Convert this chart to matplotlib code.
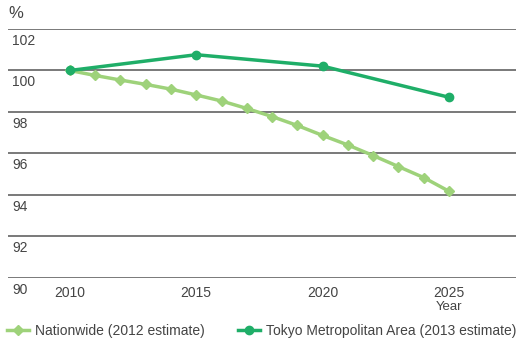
import matplotlib
matplotlib.use("Agg")
import matplotlib.pyplot as plt
import matplotlib.transforms as mtransforms

# data
years_nation = [2010, 2011, 2012, 2013, 2014, 2015, 2016, 2017, 2018, 2019, 2020, 2021, 2022, 2023, 2024, 2025]
nationwide = [100.0, 99.76, 99.54, 99.33, 99.1, 98.82, 98.53, 98.17, 97.78, 97.35, 96.87, 96.41, 95.9, 95.37, 94.84, 94.18]
years_tokyo = [2010, 2015, 2020, 2025]
tokyo = [100.0, 100.76, 100.21, 98.71]
y_ticks = [90, 92, 94, 96, 98, 100, 102]
x_ticks = [2010, 2015, 2020, 2025]

light_green = "#9ed27a"
dark_green = "#1fae68"
text_color = "#444444"

plt.rcParams["font.family"] = ["Liberation Sans", "DejaVu Sans"]

fig = plt.figure(figsize=(5.18, 3.39), dpi=100)
ax = fig.add_axes([0.0154, 0.18, 0.9806, 0.7345])

for y in y_ticks:
    ax.axhline(y, color="#555555", lw=1.1, zorder=1)

ax.plot(years_nation, nationwide, color=light_green, lw=2.5, marker="D", ms=5.5,
        label="Nationwide (2012 estimate)", zorder=3)
ax.plot(years_tokyo, tokyo, color=dark_green, lw=2.5, marker="o", ms=6,
        label="Tokyo Metropolitan Area (2013 estimate)", zorder=4)

ax.set_xlim(2007.55, 2027.65)
ax.set_ylim(90, 102)
for s in ax.spines.values():
    s.set_visible(False)
ax.set_xticks([])
ax.set_yticks([])

# y labels sit just under each gridline
trans = mtransforms.blended_transform_factory(ax.transAxes, ax.transData)
offset = mtransforms.ScaledTranslation(0, -5 / 100, fig.dpi_scale_trans)
for y in y_ticks:
    ax.text(0.008, y, str(y), transform=trans + offset, ha="left", va="top",
            fontsize=10, color=text_color)

for x in x_ticks:
    ax.text(x, 90, str(x), transform=ax.transData + mtransforms.ScaledTranslation(0, -8 / 100, fig.dpi_scale_trans),
            ha="center", va="top", fontsize=10, color=text_color)
ax.text(2025, 90, "Year", transform=ax.transData + mtransforms.ScaledTranslation(0, -23 / 100, fig.dpi_scale_trans),
        ha="center", va="top", fontsize=9.5, color=text_color)

fig.text(8 / 518, 1 - 13 / 339, "%", ha="left", va="center", fontsize=12, color=text_color)

leg = fig.legend(loc="lower left", bbox_to_anchor=(0.006, -0.01), ncol=2, frameon=False,
                 fontsize=10, handlelength=1.6, handletextpad=0.4, columnspacing=2.4,
                 borderaxespad=0.1, borderpad=0.2)
for t in leg.get_texts():
    t.set_color(text_color)

fig.savefig("out.png", dpi=100)
